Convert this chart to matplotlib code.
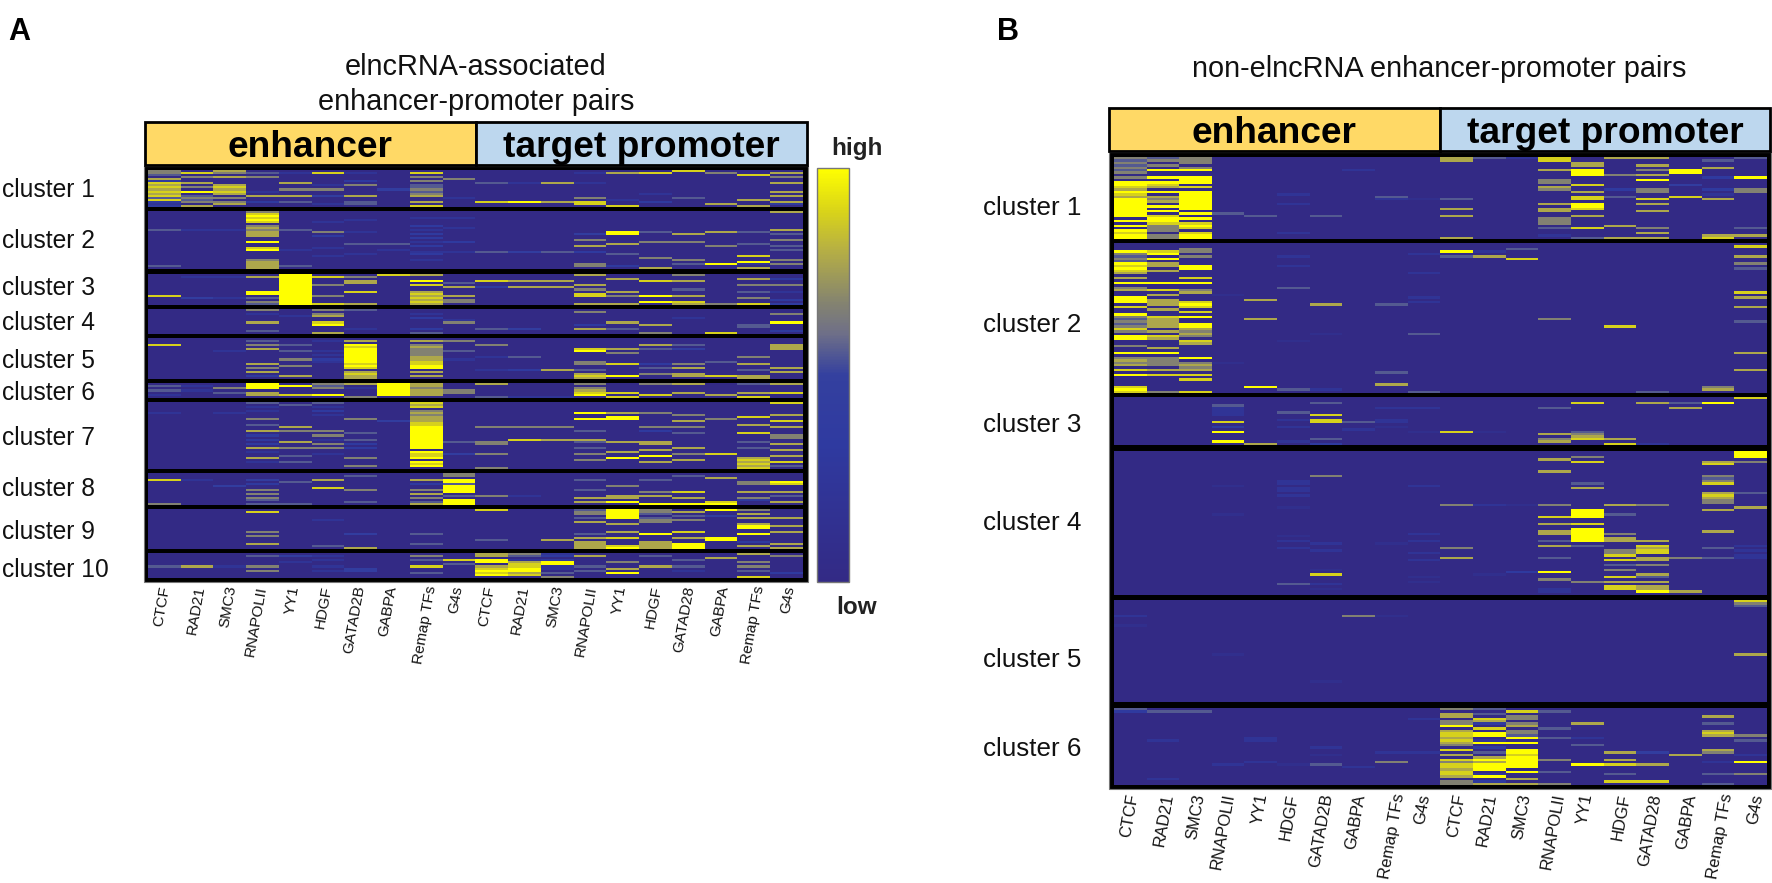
import matplotlib
matplotlib.use('Agg')
import matplotlib.pyplot as plt
import numpy as np
from matplotlib.colors import LinearSegmentedColormap
from matplotlib.patches import Rectangle
from matplotlib.cm import ScalarMappable

plt.rcParams['font.family'] = ['Liberation Sans', 'DejaVu Sans']

W, H = 1772, 883

# column order in both heatmaps
labels_a = ['CTCF', 'RAD21', 'SMC3', 'RNAPOLII', 'YY1', 'HDGF', 'GATAD2B', 'GABPA', 'Remap TFs', 'G4s',
            'CTCF', 'RAD21', 'SMC3', 'RNAPOLII', 'YY1', 'HDGF', 'GATAD28', 'GABPA', 'Remap TFs', 'G4s']
labels_b = labels_a

# signal, level 0 (low) to 9 (high)
# each cluster has one entry per column, top row first
# plain digits = every row, "row:level" = only those rows, the rest are low
a_rows = [18, 29, 15, 12, 20, 7, 33, 16, 20, 12]
a1 = ["665073878787858323", "080600706090565607", "760700078787060670", "050600000020700300", "020000700600700500",
      "080000020600400020", "020003060000700550", "000000000400000000", "080606055656700708", "000060000000020000",
      "000000500000000800", "000000200000000900", "000000700000000700", "020000200000060880", "070000000000002008",
      "080000000002000300", "800000000000050000", "060000000000000070", "008000000000007007", "070600700070700730"]
a2 = ["000000000500000000000000000500", "000000000200", "000000000200", "68989806767770090089000067777",
      "000000000500000000020000000500", "000002000060300000200020000", "000020000020000050000200",
      "000000000000000050020", "000200030203030203002300200", "000200002000000300002000",
      "000000000000000000005", "000000000000000000004", "000000000000000000005", "00000000000400600700300000660",
      "00000000009900007000050000030", "00000000005000060000000600007", "00000000000700060000000060500",
      "00000000007000000600000000900", "00000000005000005000008009207", "70000000070500600505000060600"]
a3 = ["00000000008", "02000000000400", "02000000000200", "070000009905065", "999999999999999",
      "080006000060008", "060770008000007", "800000000000000", "700908007878787", "000050700070660",
      "000800300000", "000700700", "000700700", "700007060880007", "007000007060007",
      "000800000090090", "600700050070087", "000000000000006", "007006005006008", "003006002000303"]
a4 = ["", "", "", "602000700050", "000200000", "606700890007", "500000000200", "", "002030000305", "000002600000",
      "000000000500", "000000000400", "", "060000030700", "000000700500",
      "000000070006", "000020000", "000000000008", "000000055000", "006000900030"]
a5 = ["000800", "", "000000200", "05060700000070607030", "00050050006006000070",
      "020000202032000", "07098999999989807877", "", "07067666677889907070", "06000050002000",
      "000600000200000200", "000000000500000300", "000000000000000700", "00000890000660050787", "00000706000080000090",
      "00070500000030500600", "00050400000060700770", "00000000000500000080", "00000000060070050077", "00077700000000707000"]
a6 = ["0505020", "0202000", "0060500", "9990770", "0900080", "6560090", "7020006", "9999990", "7767770", "0006600",
      "7000005", "0000002", "0000002", "6067890", "0000808", "6000080", "7000700", "0000070", "5000708", "7000800"]
a7 = ["000002", "", "000002", "5020200060050070303030702007020", "050000000000706000070060005005",
      "5020302000000060602060600200", "00000000600000050050303000060006", "000000000400",
      "878067677788999999999990988909890", "00000000000000000005000004",
      "000000000000600000066000060000006", "000000000000600000800", "000000000000600000700",
      "00000900900000500075005006006000", "00000709900000000007000070090000", "00000600000060300007700700900700",
      "00000060070060050000007006007000", "00000000600000000000000008", "0000000800070008000500500007878787",
      "800000700800700066007007007008050"]
a8 = ["0008000000000006", "0002000000000000", "0000004000000000", "0004030060606505", "0000500000000005",
      "0007000800000000", "0500000060000050", "", "0007030060706057", "6609959999050999",
      "00000000000600", "0000000000020", "", "0005000050007070", "0000006000077090",
      "0005000006070009", "0500000008007009", "0070000000000089", "0000660007006300", "0000980007050070"]
a9 = ["", "", "", "08000000000606000700", "", "00000200000000000050", "00000000000040000007", "",
      "00000000000050000500", "0000000000",
      "80000000000000050000", "", "00000000000000070000", "56605070000050707777", "99999007000700800089",
      "66505660000090007777", "07050600000800700999", "90040000000000990000", "60707007990090003070",
      "00007000700700000707"]
a10 = ["000000500", "000000700", "000000200", "050000606000", "040020", "0202002020", "000000044", "",
       "060500800500", "000805",
       "770990789890", "650278899780", "230399220506", "070000505000", "000060070900",
       "050000700000", "000500502000", "007000000000", "700060605008", "060000000300"]
a_clusters = [a1, a2, a3, a4, a5, a6, a7, a8, a9, a10]

b_rows = [34, 62, 20, 60, 42, 32]
b1 = ["6565656060998798799999999090909899", "5606090090987090767090908998666066", "6660690099908099999999090908980899",
      "23:5", "24:5", "15:2 19:2 31:2", "24:5", "5:2", "16:5 17:2", "17:1",
      "7700000000000000050007007000000007", "0:5", "0:2", "8800070006607600000707700666050020",
      "0077099900080070880998007000080005", "7000000600000300500000000000700007", "7007060709000660080700700000060707",
      "5:9 6:9 11:4 16:8", "0500700030000302070000000000000078", "5000000090000660000000000000050070"]
b2 = ["00096565989870709067009990800965656860990060090676708090000898",
      "00089090770700009008070777070087777070870007090666607080000006",
      "00660600099000809006700089808090099767608700000906767080800008",
      "21:1 49:1", "23:7 31:7 59:9", "5:2 9:2 18:5 40:1 60:5", "25:7 37:1 60:2", "", "25:5 53:5 58:7",
      "4:2 12:2 22:2 24:2 37:5 61:5",
      "3:9 5:5", "3:2 5:7", "2:5 6:8", "31:6", "", "34:8", "61:5", "", "59:6 60:7",
      "1:8 5:7 8:6 10:5 20:8 22:7 26:7 32:5 45:7 52:7"]
b3 = ["", "", "", "3:5 4:2 5:2 6:2 7:2 10:8 12:3 14:9 18:9", "19:7", "6:5 9:2 12:2 18:2",
      "2:5 7:8 9:8 10:8 17:5 19:3", "10:5 13:2", "4:2 9:2 10:2 12:1", "4:2 14:1",
      "14:8", "14:1", "", "4:5 15:7 17:6 18:7", "2:8 14:5 15:6 16:7 17:8", "17:7 19:8", "2:7 19:2",
      "2:5 4:7", "2:9", "0:8"]
b4 = ["", "", "", "14:1 26:1", "", "12:2 13:2 15:2 16:2 18:2 23:1 35:1 37:2 40:2 55:5",
      "10:6 38:2 41:2 49:1 51:8 55:2 57:1", "", "38:1", "14:2 34:2 37:2 42:2 45:2 52:1 54:1",
      "22:6 40:6 44:7", "22:2 51:1", "22:1 50:3",
      "3:7 8:7 22:6 27:8 30:7 33:7 34:7 37:5 39:7 44:5 50:9 53:6 57:2 58:2",
      "2:6 4:8 13:5 15:7 24:9 25:9 26:9 27:9 30:8 32:9 33:9 34:9 35:9 36:9 37:9 39:5 54:6",
      "22:7 26:5 34:6 36:7 37:7 41:6 42:6 43:8 45:8 47:5 49:6 52:8 54:7 56:8 57:8",
      "22:6 37:7 39:8 40:7 41:8 42:8 44:7 45:7 47:6 51:7 52:5 54:7 56:7 57:7 58:9",
      "44:6 58:7", "4:7 5:8 10:6 11:5 12:6 13:8 17:7 18:8 19:7 20:6 21:6 24:7 33:7 40:5 44:5",
      "0:9 1:9 2:9 4:6 17:5 23:7 39:2 41:2 43:2 44:2"]
b5 = ["6:2 10:1", "", "", "22:1", "", "", "33:1", "6:6", "6:1", "",
      "", "", "", "", "", "", "", "", "", "0:8 1:6 2:5 22:7"]
b6 = ["0:5 1:3", "1:5 13:2 29:2", "1:5", "23:2", "12:2 13:2 22:2", "23:1", "16:2 19:1 23:5", "24:2", "18:2 22:6", "4:2 18:2",
      "60770669078878760807086887887066", "50508730809902903050797999029037", "08066067066590900998999990900707",
      "1:5 8:5 12:5 21:6 26:5 31:6", "6:7 12:2 15:5 23:9", "18:7 21:7 23:8 27:5 30:8", "18:4 23:7 30:8",
      "19:7", "3:7 6:5 9:7 10:8 11:7 17:7 18:6 22:2 27:5 31:5", "11:6 13:5 19:2 22:9 27:6"]
b_clusters = [b1, b2, b3, b4, b5, b6]

# layout in pixels of the 1772x883 figure
a_extent = [(170, 207), (211, 269), (274, 305), (309, 334), (338, 379),
            (383, 398), (402, 469), (473, 505), (509, 549), (553, 578)]
b_extent = [(157, 239), (243, 393), (397, 445), (451, 595), (600, 702), (708, 785)]
a_label_y = [190, 241, 288, 323, 361, 393, 438, 489, 532, 570]
b_label_y = [208, 325, 425, 523, 660, 749]
a_tick_x = [165, 200, 232, 262, 295, 327, 360, 392, 432, 458,
            490, 524, 559, 592, 622, 657, 690, 724, 760, 790]
b_tick_x = [1133, 1168, 1200, 1230, 1263, 1293, 1328, 1360, 1400, 1425,
            1460, 1491, 1526, 1560, 1588, 1625, 1656, 1691, 1728, 1758]

cmap = LinearSegmentedColormap.from_list('signal', [
    (0.0, '#332A85'), (0.33, '#2F3AA0'), (0.5, '#34409F'), (0.6, '#6E6F88'),
    (0.68, '#86856E'), (0.8, '#B5AE45'), (0.9, '#DAD518'), (1.0, '#FFFF00')])


def build_matrix(columns, n):
    m = np.zeros((n, len(columns)))
    for c, col in enumerate(columns):
        if ':' in col:
            for pair in col.split():
                r, v = pair.split(':')
                m[int(r), c] = int(v)
        else:
            for r, v in enumerate(col[:n]):
                m[r, c] = int(v)
    return m


def heatmap(ax, clusters, rows, extent, left, right):
    for columns, n, (top, bottom) in zip(clusters, rows, extent):
        ax.imshow(build_matrix(columns, n), cmap=cmap, vmin=0, vmax=9, aspect='auto',
                  interpolation='nearest', extent=(left, right, bottom, top), zorder=2)


def header(ax, x0, xm, x1, y0, y1):
    ax.add_patch(Rectangle((x0, y0), xm - x0, y1 - y0, fc='#FFD966', ec='black', lw=2, zorder=3))
    ax.add_patch(Rectangle((xm, y0), x1 - xm, y1 - y0, fc='#BDD7EE', ec='black', lw=2, zorder=3))
    ax.text((x0 + xm) / 2, (y0 + y1) / 2 + 4, 'enhancer', fontsize=26.7, fontweight='bold',
            ha='center', va='center', zorder=4)
    ax.text((xm + x1) / 2, (y0 + y1) / 2 + 4, 'target promoter', fontsize=26.7, fontweight='bold',
            ha='center', va='center', zorder=4)


fig = plt.figure(figsize=(W / 100, H / 100), dpi=100)
ax = fig.add_axes([0, 0, 1, 1])

# panel A
ax.add_patch(Rectangle((144, 166), 664, 416, fc='black', ec='#777777', lw=0.8, zorder=1))
heatmap(ax, a_clusters, a_rows, a_extent, 148, 803)
header(ax, 145, 476, 807, 122, 165)

# panel B
ax.add_patch(Rectangle((1109, 152), 662, 637, fc='black', ec='#777777', lw=0.8, zorder=1))
heatmap(ax, b_clusters, b_rows, b_extent, 1114, 1767)
header(ax, 1109, 1440, 1770, 108, 151)

ax.set_xlim(0, W)
ax.set_ylim(H, 0)
ax.axis('off')

for name, y in zip(['cluster %d' % i for i in range(1, 11)], a_label_y):
    ax.text(2, y, name, fontsize=17.7, color='#111111', ha='left', va='center')
for name, y in zip(['cluster %d' % i for i in range(1, 7)], b_label_y):
    ax.text(983, y, name, fontsize=18.7, color='#111111', ha='left', va='center')

for name, x in zip(labels_a, a_tick_x):
    ax.text(x, 586, name, fontsize=11, color='#111111', rotation=80, rotation_mode='anchor',
            ha='right', va='center')
for name, x in zip(labels_b, b_tick_x):
    ax.text(x, 794, name, fontsize=11.9, color='#111111', rotation=80, rotation_mode='anchor',
            ha='right', va='center')

ax.text(476, 67, 'elncRNA-associated', fontsize=20.8, ha='center', va='center', color='#111111')
ax.text(476, 102, 'enhancer-promoter pairs', fontsize=20.8, ha='center', va='center', color='#111111')
ax.text(1439, 69, 'non-elncRNA enhancer-promoter pairs', fontsize=20.8, ha='center', va='center', color='#111111')

ax.text(8, 32, 'A', fontsize=22, fontweight='bold', ha='left', va='center')
ax.text(997, 32, 'B', fontsize=22, fontweight='bold', ha='left', va='center')

ax.text(857, 149, 'high', fontsize=17.5, fontweight='bold', ha='center', va='center', color='#222222')
ax.text(857, 607, 'low', fontsize=17.5, fontweight='bold', ha='center', va='center', color='#222222')

# colour scale next to panel A
cax = fig.add_axes([817 / W, 1 - 582 / H, 32 / W, 414 / H])
cb = fig.colorbar(ScalarMappable(cmap=cmap), cax=cax)
cb.set_ticks([])
cb.outline.set_edgecolor('#777777')
cb.outline.set_linewidth(1)

fig.savefig('out.png', dpi=100)
